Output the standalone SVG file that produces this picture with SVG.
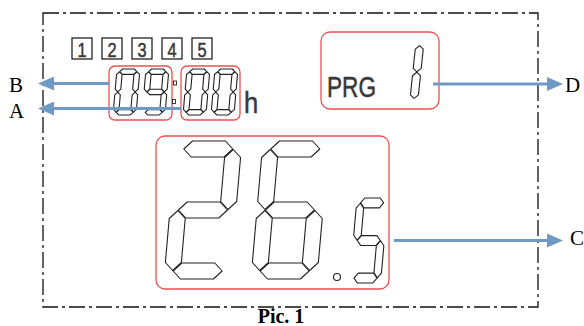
<svg xmlns="http://www.w3.org/2000/svg" xmlns:xlink="http://www.w3.org/1999/xlink" width="584" height="326" viewBox="0 0 584 326">
<style>
.frame{fill:none;stroke:#111;stroke-width:1.3;stroke-dasharray:16 4 3 4}
.red{fill:none;stroke:#ef4f4f;stroke-width:1.3}
.seg{fill:#fff;stroke:#222;stroke-width:1.1;vector-effect:non-scaling-stroke;stroke-linejoin:round}
.lcd{font-family:"Liberation Sans",Arial,sans-serif;fill:#383838;stroke:#383838;stroke-width:0.5}
.box{fill:#fff;stroke:#111;stroke-width:1.2}
.conn{fill:none;stroke:#6f9ac6;stroke-width:3}
.lbl{font-family:"Liberation Serif","Times New Roman",serif;font-size:21px;fill:#000}
.cap{font-family:"Liberation Serif","Times New Roman",serif;font-size:20px;font-weight:bold;fill:#000}
</style>
<defs>
<marker id="ah" viewBox="0 0 16 14" refX="6" refY="7" markerWidth="16" markerHeight="14" markerUnits="userSpaceOnUse" orient="auto"><path d="M0,0 L16,7 L0,14 z" fill="#6f9ac6"/></marker>
<polygon id="sa" class="seg" points="8.5,8 16.5,0 49.5,0 57.5,8 49.5,16 16.5,16"/>
<polygon id="sg" class="seg" points="8.5,69 16.5,61 49.5,61 57.5,69 49.5,77 16.5,77"/>
<polygon id="sd" class="seg" points="8.5,130 16.5,122 49.5,122 57.5,130 49.5,138 16.5,138"/>
<polygon id="sf" class="seg" points="8,8.5 16,16.5 16,60.5 8,68.5 0,60.5 0,16.5"/>
<polygon id="sb" class="seg" points="58,8.5 66,16.5 66,60.5 58,68.5 50,60.5 50,16.5"/>
<polygon id="se" class="seg" points="8,69.5 16,77.5 16,121.5 8,129.5 0,121.5 0,77.5"/>
<polygon id="sc" class="seg" points="58,69.5 66,77.5 66,121.5 58,129.5 50,121.5 50,77.5"/>
</defs>
<rect x="0" y="0" width="584" height="326" fill="#fff"/>
<g id="frame"><rect class="frame" x="43" y="13" width="495" height="294"/></g>
<g id="program-boxes">
<rect class="box" x="72" y="38" width="20" height="21"/>
<rect class="box" x="102" y="38" width="20" height="21"/>
<rect class="box" x="132" y="38" width="20" height="21"/>
<rect class="box" x="162" y="38" width="20" height="21"/>
<rect class="box" x="192" y="38" width="20" height="21"/>
<text class="lcd" font-size="21" text-anchor="middle" transform="translate(82,56.5) scale(0.78,1)">1</text>
<text class="lcd" font-size="21" text-anchor="middle" transform="translate(112,56.5) scale(0.78,1)">2</text>
<text class="lcd" font-size="21" text-anchor="middle" transform="translate(142,56.5) scale(0.78,1)">3</text>
<text class="lcd" font-size="21" text-anchor="middle" transform="translate(172,56.5) scale(0.78,1)">4</text>
<text class="lcd" font-size="21" text-anchor="middle" transform="translate(202,56.5) scale(0.78,1)">5</text>
</g>
<g id="hours">
<rect class="red" x="109" y="66" width="63" height="54" rx="6"/>
<g transform="translate(117,69) skewX(-5) scale(0.348,0.333)"><use xlink:href="#sa"/><use xlink:href="#sb"/><use xlink:href="#sc"/><use xlink:href="#sd"/><use xlink:href="#se"/><use xlink:href="#sf"/></g>
<g transform="translate(146,69) skewX(-5) scale(0.348,0.333)"><use xlink:href="#sa"/><use xlink:href="#sb"/><use xlink:href="#sc"/><use xlink:href="#sd"/><use xlink:href="#sf"/><use xlink:href="#sg"/></g>
</g>
<g id="colon">
<rect x="173.5" y="81" width="3" height="4" fill="#fff" stroke="#222" stroke-width="0.9"/>
<rect x="172.5" y="99.5" width="3" height="4" fill="#fff" stroke="#222" stroke-width="0.9"/>
</g>
<g id="minutes">
<rect class="red" x="181" y="66" width="59" height="54" rx="6"/>
<g transform="translate(187,69) skewX(-5) scale(0.348,0.333)"><use xlink:href="#sa"/><use xlink:href="#sb"/><use xlink:href="#sc"/><use xlink:href="#sd"/><use xlink:href="#se"/><use xlink:href="#sf"/></g>
<g transform="translate(215,69) skewX(-5) scale(0.348,0.333)"><use xlink:href="#sa"/><use xlink:href="#sb"/><use xlink:href="#sc"/><use xlink:href="#sd"/><use xlink:href="#se"/><use xlink:href="#sf"/></g>
<text class="lcd" font-size="30" transform="translate(244,113) scale(0.85,1)">h</text>
</g>
<g id="program">
<rect class="red" x="321" y="32" width="118" height="77" rx="9"/>
<text class="lcd" font-size="29" transform="translate(327,97) scale(0.78,1)">PRG</text>
<g transform="translate(391,42) skewX(-6) scale(0.5,0.435)"><use xlink:href="#sb"/><use xlink:href="#sc"/></g>
</g>
<g id="temperature">
<rect class="red" x="156" y="136" width="233" height="153" rx="9"/>
<g transform="translate(176,141) skewX(-5)"><use xlink:href="#sa"/><use xlink:href="#sb"/><use xlink:href="#sg"/><use xlink:href="#se"/><use xlink:href="#sd"/></g>
<g transform="translate(263,141) skewX(-5)"><use xlink:href="#sa"/><use xlink:href="#sf"/><use xlink:href="#sg"/><use xlink:href="#se"/><use xlink:href="#sd"/><use xlink:href="#sc"/></g>
<circle cx="337" cy="277" r="3.5" fill="#fff" stroke="#222" stroke-width="1.1"/>
<g transform="translate(357,198) skewX(-5) scale(0.47,0.616)"><use xlink:href="#sa"/><use xlink:href="#sf"/><use xlink:href="#sg"/><use xlink:href="#sc"/><use xlink:href="#sd"/></g>
</g>
<g id="connectors">
<path class="conn" marker-end="url(#ah)" d="M109,83.5 H48"/>
<path class="conn" marker-end="url(#ah)" d="M181,108.5 H48"/>
<path class="conn" marker-end="url(#ah)" d="M433,84 H553"/>
<path class="conn" marker-end="url(#ah)" d="M394,240.5 H553"/>
</g>
<g id="labels">
<text class="lbl" x="9" y="92">B</text>
<text class="lbl" x="9" y="118">A</text>
<text class="lbl" x="565" y="92">D</text>
<text class="lbl" x="570" y="245">C</text>
<text class="cap" x="281" y="323" text-anchor="middle">Pic. 1</text>
</g>
</svg>
